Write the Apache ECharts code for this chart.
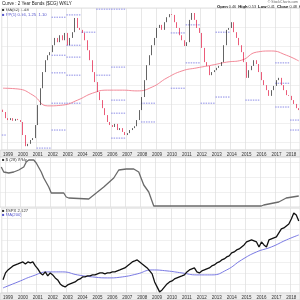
<!DOCTYPE html>
<html><head><meta charset="utf-8">
<script src="https://cdn.jsdelivr.net/npm/echarts@6/dist/echarts.min.js"></script>
<style>html,body{margin:0;padding:0;background:#fff}#c{width:300px;height:300px}</style>
</head><body><div id="c"></div>
<script>
// ---- categories: bi-monthly periods, Sep 1998 .. Jul 2018
const startYear = 1998, startMonth = 9, periods = 120;
const cats = [];
{ let y = startYear, m = startMonth;
  for (let i = 0; i < periods; i++) { cats.push(y + '-' + String(m).padStart(2, '0')); m += 2; if (m > 12) { m -= 12; y++; } } }

// ---- top panel: yield curve spread, closes per period
const spreadOpen0 = 0.35;
const spreadClose = [0.29,0.13,0.08,0.13,0.06,0.11,0.08,0.03,-0.31,-0.60,
 -0.54,-0.44,-0.39,-0.05,0.47,0.91,1.33,1.64,1.77,1.85,
 2.03,2.22,2.11,2.29,2.16,2.35,2.03,2.22,2.37,2.74,
 2.48,2.43,2.35,2.16,1.90,1.64,1.33,1.07,0.81,0.60,
 0.39,0.21,0.03,-0.05,-0.10,-0.02,-0.18,-0.13,-0.23,-0.31,
 -0.26,-0.18,-0.13,-0.08,0.08,0.34,0.68,1.12,1.51,1.77,
 2.03,2.22,2.48,2.56,2.43,2.63,2.76,2.84,2.82,2.63,
 2.48,2.29,2.16,2.01,2.11,2.69,2.87,2.69,2.48,2.35,
 1.96,1.59,1.49,1.25,1.33,1.38,1.44,1.49,1.59,2.03,
 2.43,2.48,2.63,2.37,2.22,2.03,1.85,1.59,1.18,1.38,
 1.49,1.64,1.54,1.33,1.12,0.99,0.86,0.71,0.86,0.97,
 1.12,1.18,0.99,0.86,0.73,0.71,0.60,0.50,0.39,0.34];

// moving averages sampled at these period indices
const maIdx = [0,6,12,18,24,30,36,42,48,54,60,66,72,78,84,90,96,102,108,114,119];
const spreadMA = [0.91,0.89,0.73,0.45,0.47,0.60,0.78,0.86,0.86,0.84,0.94,1.18,1.36,1.44,1.51,1.59,1.64,1.85,1.88,1.77,1.62];

// pivot point segments (year, level)
const pivYear = [1998,2001,2002,2002,2002,2002,2002,2003,2003,2003,2003,2003,2004,2005,2005,2006,2006,2006,2006,2006,2008,2008,2010,2010,2011,2011,2012,2013,2013,2015,2017,2017,2017,2018,2018];
const pivVal  = [-0.31,-0.65,2.76,1.77,1.31,0.52,-0.18,2.82,2.03,1.72,1.25,0.52,2.37,2.97,1.25,2.97,1.46,0.60,0.26,-0.39,0.52,0.03,2.35,0.91,2.56,1.57,0.52,2.37,0.68,0.60,1.57,1.04,0.42,0.08,-0.18];

// middle panel indicator
const p2Idx = [0,1,3,5,7,9,10,11,13,14,16,17,19,20,25,26,27,35,37,41,45,47,50,53,55,57,59,61,104,105,111,114,119];
const p2Val = [80,70,68,70,74,80,90,94,94,88,70,58,40,28,28,20,18,16,24,40,58,74,76,76,70,44,30,2,2,4,10,18,22];

// bottom panel: index close per period
const spxClose = [1010,1200,1281,1336,1391,1418,1445,1473,1500,1445,
 1500,1473,1500,1391,1309,1199,1145,1227,1117,1199,
 1145,1063,1008,899,844,817,871,899,926,953,
 1008,1035,1090,1090,1117,1117,1145,1145,1172,1199,
 1199,1172,1199,1199,1227,1227,1254,1281,1309,1336,
 1391,1445,1500,1527,1555,1500,1445,1391,1336,1254,
 1172,953,817,680,735,817,899,953,981,1035,
 1063,1090,1117,1145,1227,1281,1309,1336,1227,1199,
 1254,1281,1309,1336,1391,1418,1473,1500,1555,1582,
 1637,1664,1746,1773,1828,1855,1910,1965,2047,2074,
 2101,2074,2047,1910,2047,1965,1910,2101,2129,2156,
 2183,2293,2402,2429,2484,2539,2675,2839,2785,2621];
const spxMA = [789,953,1117,1227,1227,1145,1090,1063,1090,1172,1281,1254,1199,1145,1145,1281,1555,1773,1910,2101,2238];

// ---- build
const candle = spreadClose.map((c, i) => {
  const o = i === 0 ? spreadOpen0 : spreadClose[i - 1];
  return [o, c, Math.min(o, c), Math.max(o, c)];
});
const pair = (idx, vals) => idx.map((x, k) => [x, vals[k]]);
const pivData = pivYear.map((y, k) => {
  const s = Math.max(0, 2 + 6 * (y - 1999));
  const e = Math.min(periods - 1, 2 + 6 * (y - 1999) + 5);
  return [s, e, pivVal[k]];
});
const isJan = (v) => String(v).endsWith('-01');
const F = 'Liberation Sans';
const gridLine = { show: true, lineStyle: { color: '#e6e6e6', width: 0.6 } };

function xAx(g, labels) {
  return {
    type: 'category', data: cats, gridIndex: g, boundaryGap: true,
    axisLine: { show: false }, axisTick: { show: false },
    axisLabel: labels ? { show: true, interval: (i, v) => isJan(v), formatter: v => isJan(v) ? v.slice(0, 4) : '',
      fontSize: 4.5, color: '#333', fontFamily: F, margin: 2 } : { show: false },
    splitLine: { show: true, interval: (i, v) => isJan(v), lineStyle: { color: '#dcdcdc', width: 0.7 } }
  };
}

const chart = echarts.init(document.getElementById('c'), null, { renderer: 'canvas' });
chart.setOption({
  animation: false,
  backgroundColor: '#fff',
  textStyle: { fontFamily: F },
  grid: [
    { left: 0, right: 0, top: 8, height: 142, show: true, borderColor: '#cfcfcf', borderWidth: 0.6 },
    { left: 0, right: 0, top: 157, height: 50, show: true, borderColor: '#cfcfcf', borderWidth: 0.6 },
    { left: 0, right: 0, top: 208, height: 85, show: true, borderColor: '#cfcfcf', borderWidth: 0.6 }
  ],
  xAxis: [xAx(0, true), xAx(1, false), xAx(2, true)],
  yAxis: [
    { type: 'value', gridIndex: 0, min: -0.7, max: 3.0, axisLabel: { show: false }, axisLine: { show: false }, axisTick: { show: false }, splitLine: gridLine, splitNumber: 8 },
    { type: 'value', gridIndex: 1, min: 0, max: 100, axisLabel: { show: false }, axisLine: { show: false }, axisTick: { show: false }, splitLine: gridLine, splitNumber: 4 },
    { type: 'value', gridIndex: 2, min: 650, max: 2975, axisLabel: { show: false }, axisLine: { show: false }, axisTick: { show: false }, splitLine: gridLine, splitNumber: 6 }
  ],
  graphic: [
    { type: 'rect', shape: { x: 0, y: 150, width: 300, height: 7 }, style: { fill: '#ececec', stroke: '#cfcfcf', lineWidth: 0.5 }, z: -1 },
    { type: 'rect', shape: { x: 0, y: 293, width: 300, height: 7 }, style: { fill: '#ececec', stroke: '#cfcfcf', lineWidth: 0.5 }, z: -1 },
    { type: 'text', left: 2, top: 1, style: { text: 'Curve : 2 Year Bonds ($CG) WKLY', fontSize: 4.5, fill: '#222', fontFamily: F } },
    { type: 'text', left: 2, top: 8, style: { text: '■ MA(52) 1.48', fontSize: 4.2, fill: '#333', fontFamily: F } },
    { type: 'text', left: 2, top: 12.5, style: { text: '■ PP(1) 0.56, 1.25, 1.10', fontSize: 4.2, fill: '#5555cc', fontFamily: F } },
    { type: 'text', right: 2, top: 0.5, style: { text: '© StockCharts.com', fontSize: 3.5, fill: '#666', fontFamily: F } },
    { type: 'text', left: 217, top: 4.5, style: { text: '{b|Open} 0.46  {b|High} 0.53  {b|Low} 0.41  {b|Close} 0.48  {b|Chg} +0.02',
        fontSize: 3.8, fill: '#333', fontFamily: F, rich: { b: { fontWeight: 'bold', fontSize: 4.2, fill: '#111' } } } },
    { type: 'text', left: 2, top: 157.5, style: { text: '■ $ (28) Wkly', fontSize: 4.2, fill: '#333', fontFamily: F } },
    { type: 'text', left: 2, top: 208.5, style: { text: '■ $SPX 2,627', fontSize: 4.2, fill: '#333', fontFamily: F } },
    { type: 'text', left: 2, top: 213, style: { text: '■ MA(200)', fontSize: 4.2, fill: '#5555cc', fontFamily: F } }
  ],
  series: [
    { type: 'custom', xAxisIndex: 0, yAxisIndex: 0, data: pivData, encode: { x: 0, y: 2 }, z: 1,
      renderItem: (params, api) => {
        const p1 = api.coord([api.value(0), api.value(2)]);
        const p2 = api.coord([api.value(1), api.value(2)]);
        const half = api.size([1, 0])[0] / 2;
        return { type: 'line', shape: { x1: p1[0] - half, y1: p1[1], x2: p2[0] + half, y2: p2[1] },
          style: { stroke: '#8c8ce6', lineWidth: 1, lineDash: [1.5, 1] } };
      } },
    { type: 'line', xAxisIndex: 0, yAxisIndex: 0, data: pair(maIdx, spreadMA), smooth: true, symbol: 'none',
      lineStyle: { color: '#f07c8c', width: 0.9 }, z: 2 },
    { type: 'candlestick', xAxisIndex: 0, yAxisIndex: 0, data: candle, barMaxWidth: 2.2, z: 3,
      itemStyle: { color: '#666', color0: '#e3163f', borderColor: '#222', borderColor0: '#e3163f', borderWidth: 0.7 } },
    { type: 'line', xAxisIndex: 1, yAxisIndex: 1, data: pair(p2Idx, p2Val), symbol: 'none',
      lineStyle: { color: '#6a6a6a', width: 1.3 } },
    { type: 'line', xAxisIndex: 2, yAxisIndex: 2, data: pair(maIdx, spxMA), smooth: true, symbol: 'none',
      lineStyle: { color: '#6a6ae0', width: 0.9 } },
    { type: 'line', xAxisIndex: 2, yAxisIndex: 2, data: spxClose, symbol: 'none',
      lineStyle: { color: '#111', width: 1.3 } }
  ]
});
</script></body></html>
